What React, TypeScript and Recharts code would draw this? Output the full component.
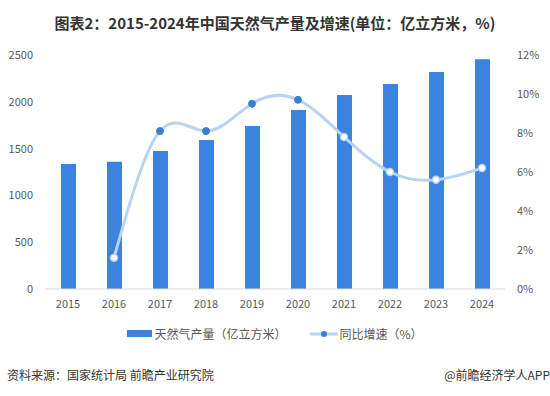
import React from "react";
import {
  ComposedChart,
  Bar,
  Line,
  XAxis,
  YAxis,
} from "recharts";

const years = ["2015", "2016", "2017", "2018", "2019", "2020", "2021", "2022", "2023", "2024"];
const output = [1335, 1360, 1474, 1592, 1741, 1912, 2073, 2190, 2318, 2454];
const growth = [null, 1.6, 8.1, 8.1, 9.5, 9.7, 7.8, 6.0, 5.6, 6.2];
const solidDots = [false, false, true, true, true, true, false, false, false, false];
const leftTicks = [0, 500, 1000, 1500, 2000, 2500];
const rightTicks = [0, 2, 4, 6, 8, 10, 12];

const data = years.map((y, i) => ({ year: y, output: output[i], growth: growth[i] }));

const BAR = "#3a83df";
const LINE = "#b9d3f2";
const DOT = "#3a7fd5";
const FONT = '"Microsoft YaHei", "Noto Sans CJK SC", sans-serif';

function GrowthDot(props: any) {
  const { cx, cy, index } = props;
  if (cx == null || cy == null || growth[index] == null) return null;
  if (solidDots[index]) {
    return <circle key={index} cx={cx} cy={cy} r={3.5} fill={DOT} stroke={DOT} strokeWidth={1} />;
  }
  return <circle key={index} cx={cx} cy={cy} r={3.5} fill="#fff" stroke={LINE} strokeWidth={1.5} />;
}

function LegendBox() {
  return (
    <div
      style={{
        display: "flex",
        justifyContent: "center",
        alignItems: "center",
        fontFamily: FONT,
        fontSize: 12,
        color: "#595959",
      }}
    >
      <span style={{ display: "inline-block", width: 25, height: 7, background: BAR, marginRight: 2 }} />
      <span>天然气产量（亿立方米）</span>
      <svg width={28} height={10} style={{ marginLeft: 24, marginRight: 1 }}>
        <line x1={0} y1={5} x2={28} y2={5} stroke={LINE} strokeWidth={3} />
        <circle cx={14} cy={5} r={3} fill={DOT} />
      </svg>
      <span>同比增速（%）</span>
    </div>
  );
}

export default function App() {
  return (
    <div
      style={{
        position: "absolute",
        left: 0,
        top: 0,
        width: 550,
        height: 396,
        background: "#fff",
        fontFamily: FONT,
      }}
    >
      <div
        style={{
          position: "absolute",
          top: 12,
          left: 0,
          width: 550,
          textAlign: "center",
          fontSize: 15,
          fontWeight: "bold",
          color: "#333",
        }}
      >
        图表2：2015-2024年中国天然气产量及增速(单位：亿立方米，%)
      </div>
      <ComposedChart
        width={550}
        height={396}
        data={data}
        margin={{ top: 55, right: 0, bottom: 77, left: 0 }}
        barCategoryGap="34%"
      >
        <XAxis
          dataKey="year"
          tickLine={false}
          axisLine={{ stroke: "#d9d9d9" }}
          tick={{ fill: "#595959", fontSize: 11, fontFamily: FONT }}
          tickMargin={5}
          height={30}
        />
        <YAxis
          yAxisId="left"
          width={45}
          domain={[0, 2500]}
          ticks={leftTicks}
          axisLine={false}
          tickLine={false}
          tickMargin={6}
          tick={{ fill: "#595959", fontSize: 11, fontFamily: FONT }}
        />
        <YAxis
          yAxisId="right"
          orientation="right"
          width={45}
          domain={[0, 12]}
          ticks={rightTicks}
          tickFormatter={(v) => `${v}%`}
          axisLine={false}
          tickLine={false}
          tickMargin={6}
          tick={{ fill: "#595959", fontSize: 11, fontFamily: FONT }}
        />
        <Bar
          yAxisId="left"
          dataKey="output"
          fill={BAR}
          barSize={15}
          isAnimationActive={false}
        />
        <Line
          yAxisId="right"
          type="natural"
          dataKey="growth"
          stroke={LINE}
          strokeWidth={3}
          dot={(p: any) => <GrowthDot {...p} />}
          activeDot={false}
          isAnimationActive={false}
        />
      </ComposedChart>
      <div style={{ position: "absolute", top: 325, left: 0, width: 550 }}>
        <LegendBox />
      </div>
      <div
        style={{
          position: "absolute",
          top: 366,
          left: 7,
          fontSize: 12,
          color: "#333",
        }}
      >
        资料来源：国家统计局 前瞻产业研究院
      </div>
      <div
        style={{
          position: "absolute",
          top: 366,
          right: 0,
          fontSize: 12,
          color: "#333",
        }}
      >
        @前瞻经济学人APP
      </div>
    </div>
  );
}
